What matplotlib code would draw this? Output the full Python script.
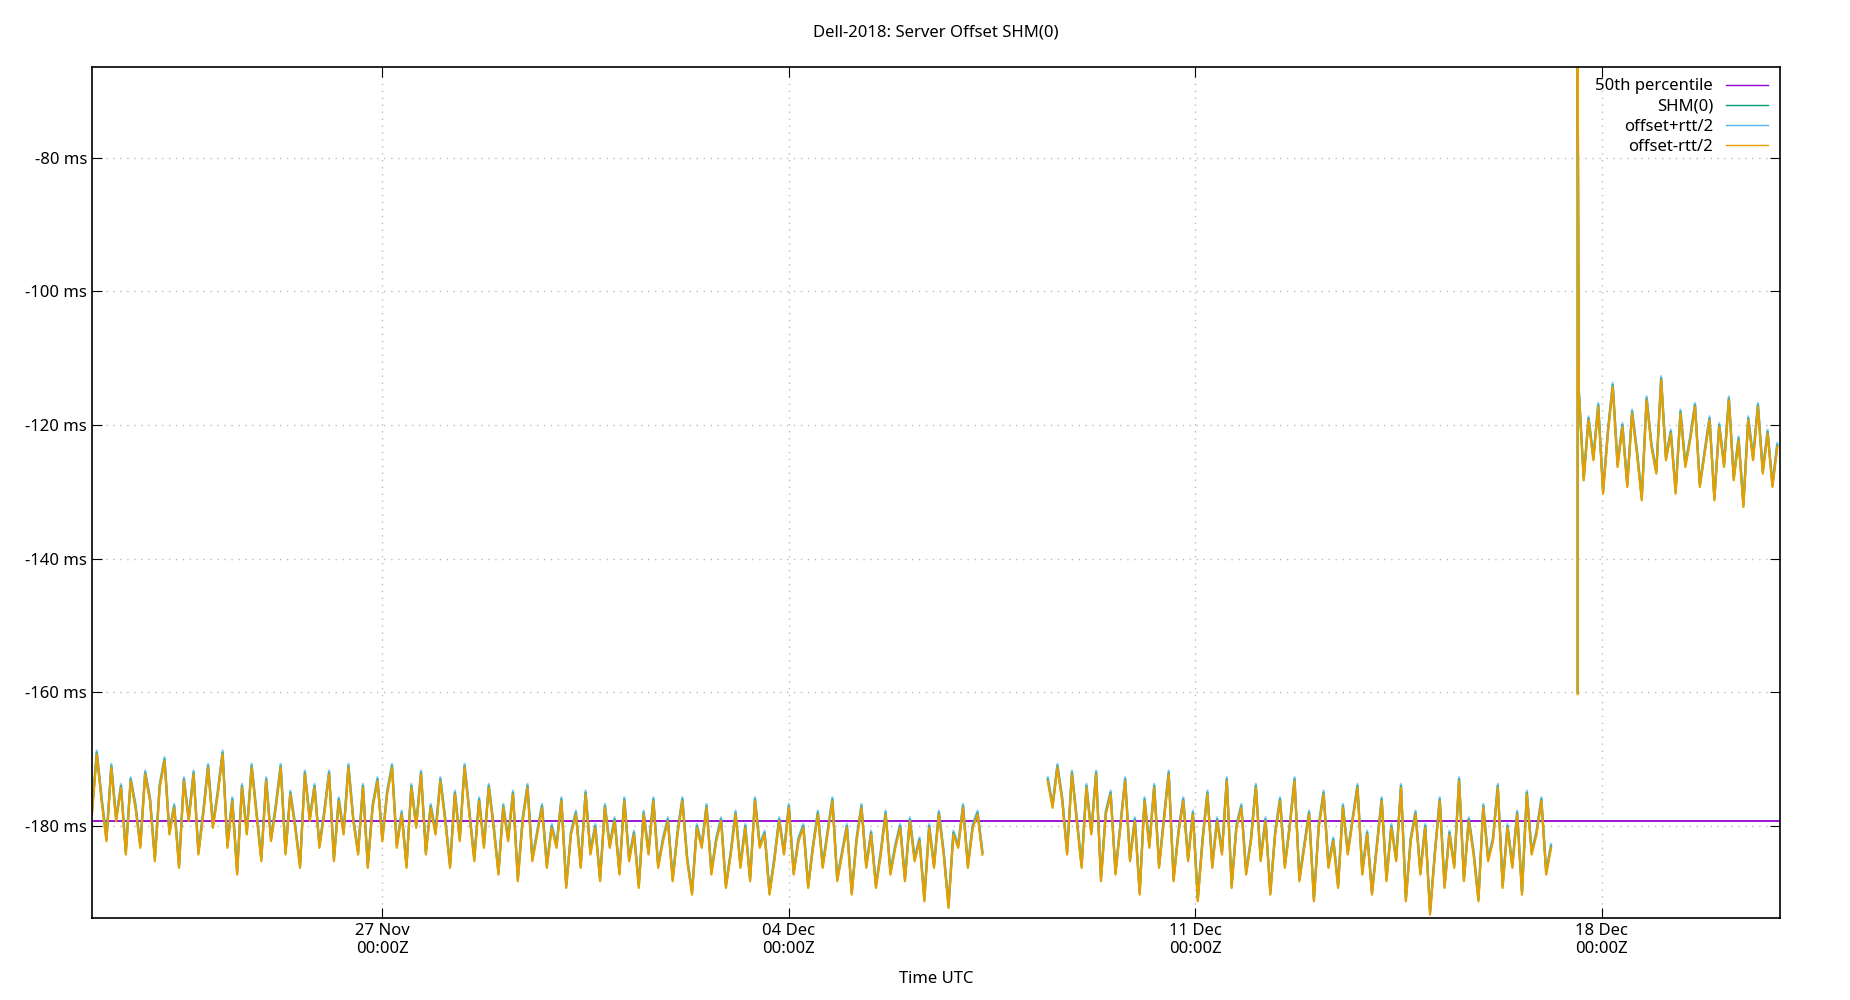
import matplotlib
matplotlib.use('Agg')
import matplotlib.pyplot as plt
import numpy as np
from datetime import datetime, timedelta

plt.rcParams['font.family'] = ['Noto Sans', 'DejaVu Sans']

# offsets in ms, sampled every 2 hours
seg1_start = datetime(2018, 11, 22, 0, 0)
seg1 = [
    -178, -169, -176, -182, -171, -179, -174, -184, -173, -177, -183, -172,
    -176, -185, -174, -170, -181, -177, -186, -173, -179, -172, -184, -178,
    -171, -180, -175, -169, -183, -176, -187, -174, -181, -171, -178, -185,
    -173, -182, -177, -171, -184, -175, -180, -186, -172, -179, -174, -183,
    -178, -172, -185, -176, -181, -171, -179, -184, -174, -186, -177, -173,
    -182, -175, -171, -183, -178, -186, -174, -180, -172, -184, -177, -181,
    -173, -179, -186, -175, -182, -171, -178, -185, -176, -183, -174, -180,
    -187, -177, -182, -175, -188, -179, -174, -185, -181, -177, -186, -180,
    -183, -176, -189, -181, -178, -186, -175, -184, -180, -188, -177, -183,
    -179, -187, -176, -185, -181, -189, -178, -184, -176, -186, -182, -179,
    -188, -181, -176, -185, -190, -180, -183, -177, -187, -182, -179, -189,
    -184, -178, -186, -180, -188, -176, -183, -181, -190, -185, -179, -184,
    -177, -187, -182, -180, -189, -183, -178, -186, -181, -176, -188, -184,
    -180, -190, -182, -177, -186, -181, -189, -184, -178, -187, -183, -180,
    -188, -179, -185, -182, -191, -180, -186, -178, -184, -192, -181, -183,
    -177, -186, -180, -178, -184,
]
seg2_start = datetime(2018, 12, 8, 11, 0)
seg2 = [
    -173, -177, -171, -176, -184, -172, -179, -186, -174, -181, -172, -188,
    -178, -175, -187, -180, -173, -185, -179, -190, -176, -183, -174, -186,
    -179, -172, -188, -181, -176, -185, -178, -191, -182, -175, -186, -179,
    -184, -173, -189, -180, -177, -187, -182, -174, -185, -179, -190, -181,
    -176, -186, -180, -173, -188, -183, -178, -191, -180, -175, -186, -182,
    -189, -177, -184, -179, -174, -187, -181, -190, -183, -176, -188, -180,
    -185, -174, -191, -182, -178, -187, -180, -193, -184, -176, -189, -181,
    -186, -173, -188, -179, -184, -191, -177, -185, -182, -174, -189, -180,
    -186, -178, -190, -175, -184, -181, -176, -187, -183,
]
spike_time = datetime(2018, 12, 17, 14, 0)
spike = [-160, -66]
seg3_start = datetime(2018, 12, 17, 14, 30)
seg3 = [
    -115, -128, -119, -125, -117, -130, -121, -114, -126, -120, -129, -118,
    -124, -131, -116, -123, -127, -113, -125, -121, -130, -118, -126, -122,
    -117, -129, -124, -119, -131, -120, -126, -116, -128, -122, -132, -119,
    -125, -117, -127, -121, -129, -123,
]
median_ms = -179.3
half_rtt = 0.3

def times(start, n, step_h=2.0):
    return [start + timedelta(hours=step_h * i) for i in range(n)]

t1 = times(seg1_start, len(seg1))
t2 = times(seg2_start, len(seg2))
t3 = times(seg3_start, len(seg3))
gap1 = t1[-1] + timedelta(hours=1)
gap2 = t2[-1] + timedelta(hours=1)
t_all = t1 + [gap1] + t2 + [gap2] + [spike_time, spike_time] + t3
v_all = np.array(seg1 + [np.nan] + seg2 + [np.nan] + spike + seg3, dtype=float)

fig = plt.figure(figsize=(18.5, 10), dpi=100)
ax = fig.add_axes([0.0497, 0.0823, 0.9123, 0.851])

xmin = datetime(2018, 11, 22, 0, 0)
xmax = datetime(2018, 12, 21, 1, 30)
ax.plot([xmin, xmax], [median_ms, median_ms], color='#9400d3', lw=1.3, label='50th percentile')
ax.plot(t_all, v_all, color='#009e73', lw=1.6, label='SHM(0)')
ax.plot(t_all, v_all + half_rtt, color='#56b4e9', lw=1.6, alpha=0.6, label='offset+rtt/2')
ax.plot(t_all, v_all - half_rtt, color='#e69f00', lw=1.6, label='offset-rtt/2')

ax.set_xlim(xmin, xmax)
ax.set_ylim(-193.75, -66.4)
yt = [-80, -100, -120, -140, -160, -180]
ax.set_yticks(yt)
ax.set_yticklabels([f"{v} ms" for v in yt])
xt = [datetime(2018, 11, 27), datetime(2018, 12, 4), datetime(2018, 12, 11), datetime(2018, 12, 18)]
ax.set_xticks(xt)
ax.set_xticklabels([d.strftime('%d %b') + '\n00:00Z' for d in xt])
ax.tick_params(direction='in', top=True, right=True, length=7, labelsize=12)
ax.grid(True, linestyle=(0, (1, 4)), color='#bbbbbb', lw=1)
for s in ax.spines.values():
    s.set_linewidth(1.2)

ax.set_title('Dell-2018: Server Offset SHM(0)', fontsize=12, pad=22)
ax.set_xlabel('Time UTC', fontsize=12, labelpad=10)
leg = ax.legend(loc='upper right', frameon=False, markerfirst=False, fontsize=12,
                handlelength=2.5, labelspacing=0.25, borderaxespad=0.3)
for line in leg.get_lines():
    line.set_linewidth(1.0)
    line.set_alpha(1.0)

fig.savefig('out.png', dpi=100)
